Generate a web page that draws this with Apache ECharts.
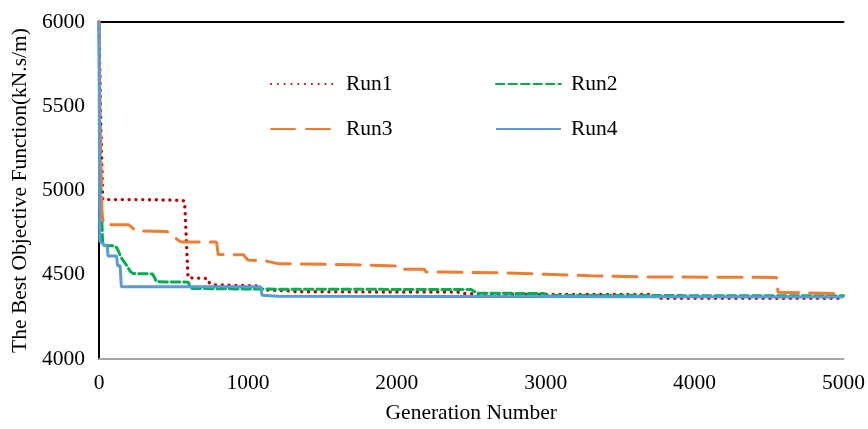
<!DOCTYPE html>
<html>
<head>
<meta charset="utf-8">
<script src="https://cdn.jsdelivr.net/npm/echarts@6/dist/echarts.min.js"></script>
<style>
html,body{margin:0;padding:0;background:#fff;}
#chart{width:868px;height:429px;}
</style>
</head>
<body>
<div id="chart"></div>
<script>
// ---- data (generation, best objective value) ----
var seriesNames = ['Run1', 'Run2', 'Run3', 'Run4'];
var xTicks = [0, 1000, 2000, 3000, 4000, 5000];
var yTicks = [4000, 4500, 5000, 5500, 6000];

var run1Gen = [0, 12, 25, 300, 560, 575, 598, 730, 742, 770, 1070, 1090, 1270, 1330, 2410, 2450, 2650, 3700, 3760, 5000];
var run1Val = [6000, 5400, 4946, 4946, 4942, 4935, 4482, 4478, 4450, 4440, 4434, 4410, 4405, 4399, 4397, 4389, 4384, 4383, 4360, 4360];

var run2Gen = [0, 8, 25, 107, 120, 150, 185, 210, 228, 360, 387, 600, 615, 1000, 2000, 2500, 2540, 2990, 3000, 5000];
var run2Val = [6000, 5100, 4674, 4672, 4660, 4600, 4556, 4520, 4507, 4505, 4458, 4456, 4419, 4415, 4413, 4412, 4390, 4389, 4377, 4375];

var run3Gen = [0, 8, 20, 30, 200, 250, 455, 540, 560, 790, 800, 970, 1000, 1120, 1200, 1700, 2030, 2040, 2185, 2195, 2700, 3000, 3300, 3700, 4550, 4560, 5000];
var run3Val = [6000, 5400, 4870, 4798, 4796, 4760, 4757, 4700, 4694, 4694, 4620, 4619, 4587, 4582, 4566, 4560, 4550, 4533, 4532, 4517, 4512, 4503, 4494, 4487, 4484, 4396, 4388];

var run4Gen = [0, 5, 40, 57, 60, 118, 125, 142, 150, 1085, 1095, 1200, 5000];
var run4Val = [6000, 4700, 4674, 4668, 4612, 4612, 4553, 4553, 4429, 4429, 4378, 4372, 4368];

function zip(a, b) { return a.map(function (v, i) { return [v, b[i]]; }); }

var FONT = "'Liberation Serif', 'Times New Roman', serif";
var FS = 21.5;
var colors = ['#c00000', '#00b050', '#ed7d31', '#5b9bd5'];
var dashes = [[0.1, 6.7], [8.5, 4], [24, 11], 'solid'];
var widths = [3.4, 3, 3, 3];
var caps = ['round', 'round', 'round', 'butt'];
var gens = [run1Gen, run2Gen, run3Gen, run4Gen];
var vals = [run1Val, run2Val, run3Val, run4Val];

var series = seriesNames.map(function (n, i) {
  return {
    name: n,
    type: 'line',
    showSymbol: false,
    symbol: 'none',
    data: zip(gens[i], vals[i]),
    lineStyle: { color: colors[i], width: widths[i], type: dashes[i], cap: caps[i] },
    itemStyle: { color: colors[i] },
    z: 2 + i
  };
});

var legendPos = [[270, 73], [495, 73], [270, 118], [495, 118]];
var legends = seriesNames.map(function (n, i) {
  return {
    data: [n],
    left: legendPos[i][0],
    top: legendPos[i][1],
    itemWidth: 65,
    itemHeight: 22,
    itemGap: 0,
    padding: 0,
    itemStyle: { opacity: 0 },
    textStyle: { fontFamily: FONT, fontSize: FS, color: '#000', padding: [0, 0, 0, 5] }
  };
});

function plain(v) { return String(v); }

var chart = echarts.init(document.getElementById('chart'), null, { renderer: 'canvas' });
chart.setOption({
  animation: false,
  backgroundColor: '#fff',
  legend: legends,
  grid: { left: 99, right: 21, top: 22, bottom: 67, containLabel: false },
  xAxis: [{
    type: 'value',
    min: xTicks[0], max: xTicks[xTicks.length - 1], interval: 1000,
    name: 'Generation Number', nameLocation: 'middle', nameGap: 43,
    nameTextStyle: { fontFamily: FONT, fontSize: FS, color: '#000' },
    axisLine: { show: true, lineStyle: { color: '#a6a6a6', width: 2 } },
    axisTick: { show: false },
    splitLine: { show: false },
    axisLabel: { fontFamily: FONT, fontSize: FS, color: '#000', margin: 13, formatter: plain }
  }, {
    type: 'value', position: 'top',
    min: xTicks[0], max: xTicks[xTicks.length - 1], interval: 1000,
    axisLine: { show: true, lineStyle: { color: '#000', width: 2 } },
    axisTick: { show: false }, axisLabel: { show: false }, splitLine: { show: false }
  }],
  yAxis: [{
    type: 'value',
    min: yTicks[0], max: yTicks[yTicks.length - 1], interval: 500,
    name: 'The Best Objective Function(kN.s/m)', nameLocation: 'middle', nameGap: 66,
    nameTextStyle: { fontFamily: FONT, fontSize: FS, color: '#000' },
    axisLine: { show: true, lineStyle: { color: '#a6a6a6', width: 2 } },
    axisTick: { show: false },
    splitLine: { show: false },
    axisLabel: { fontFamily: FONT, fontSize: FS, color: '#000', margin: 14, formatter: plain }
  }, {
    type: 'value', position: 'right',
    min: yTicks[0], max: yTicks[yTicks.length - 1], interval: 500,
    axisLine: { show: true, lineStyle: { color: '#000', width: 2 } },
    axisTick: { show: false }, axisLabel: { show: false }, splitLine: { show: false }
  }],
  series: series
});
</script>
</body>
</html>
